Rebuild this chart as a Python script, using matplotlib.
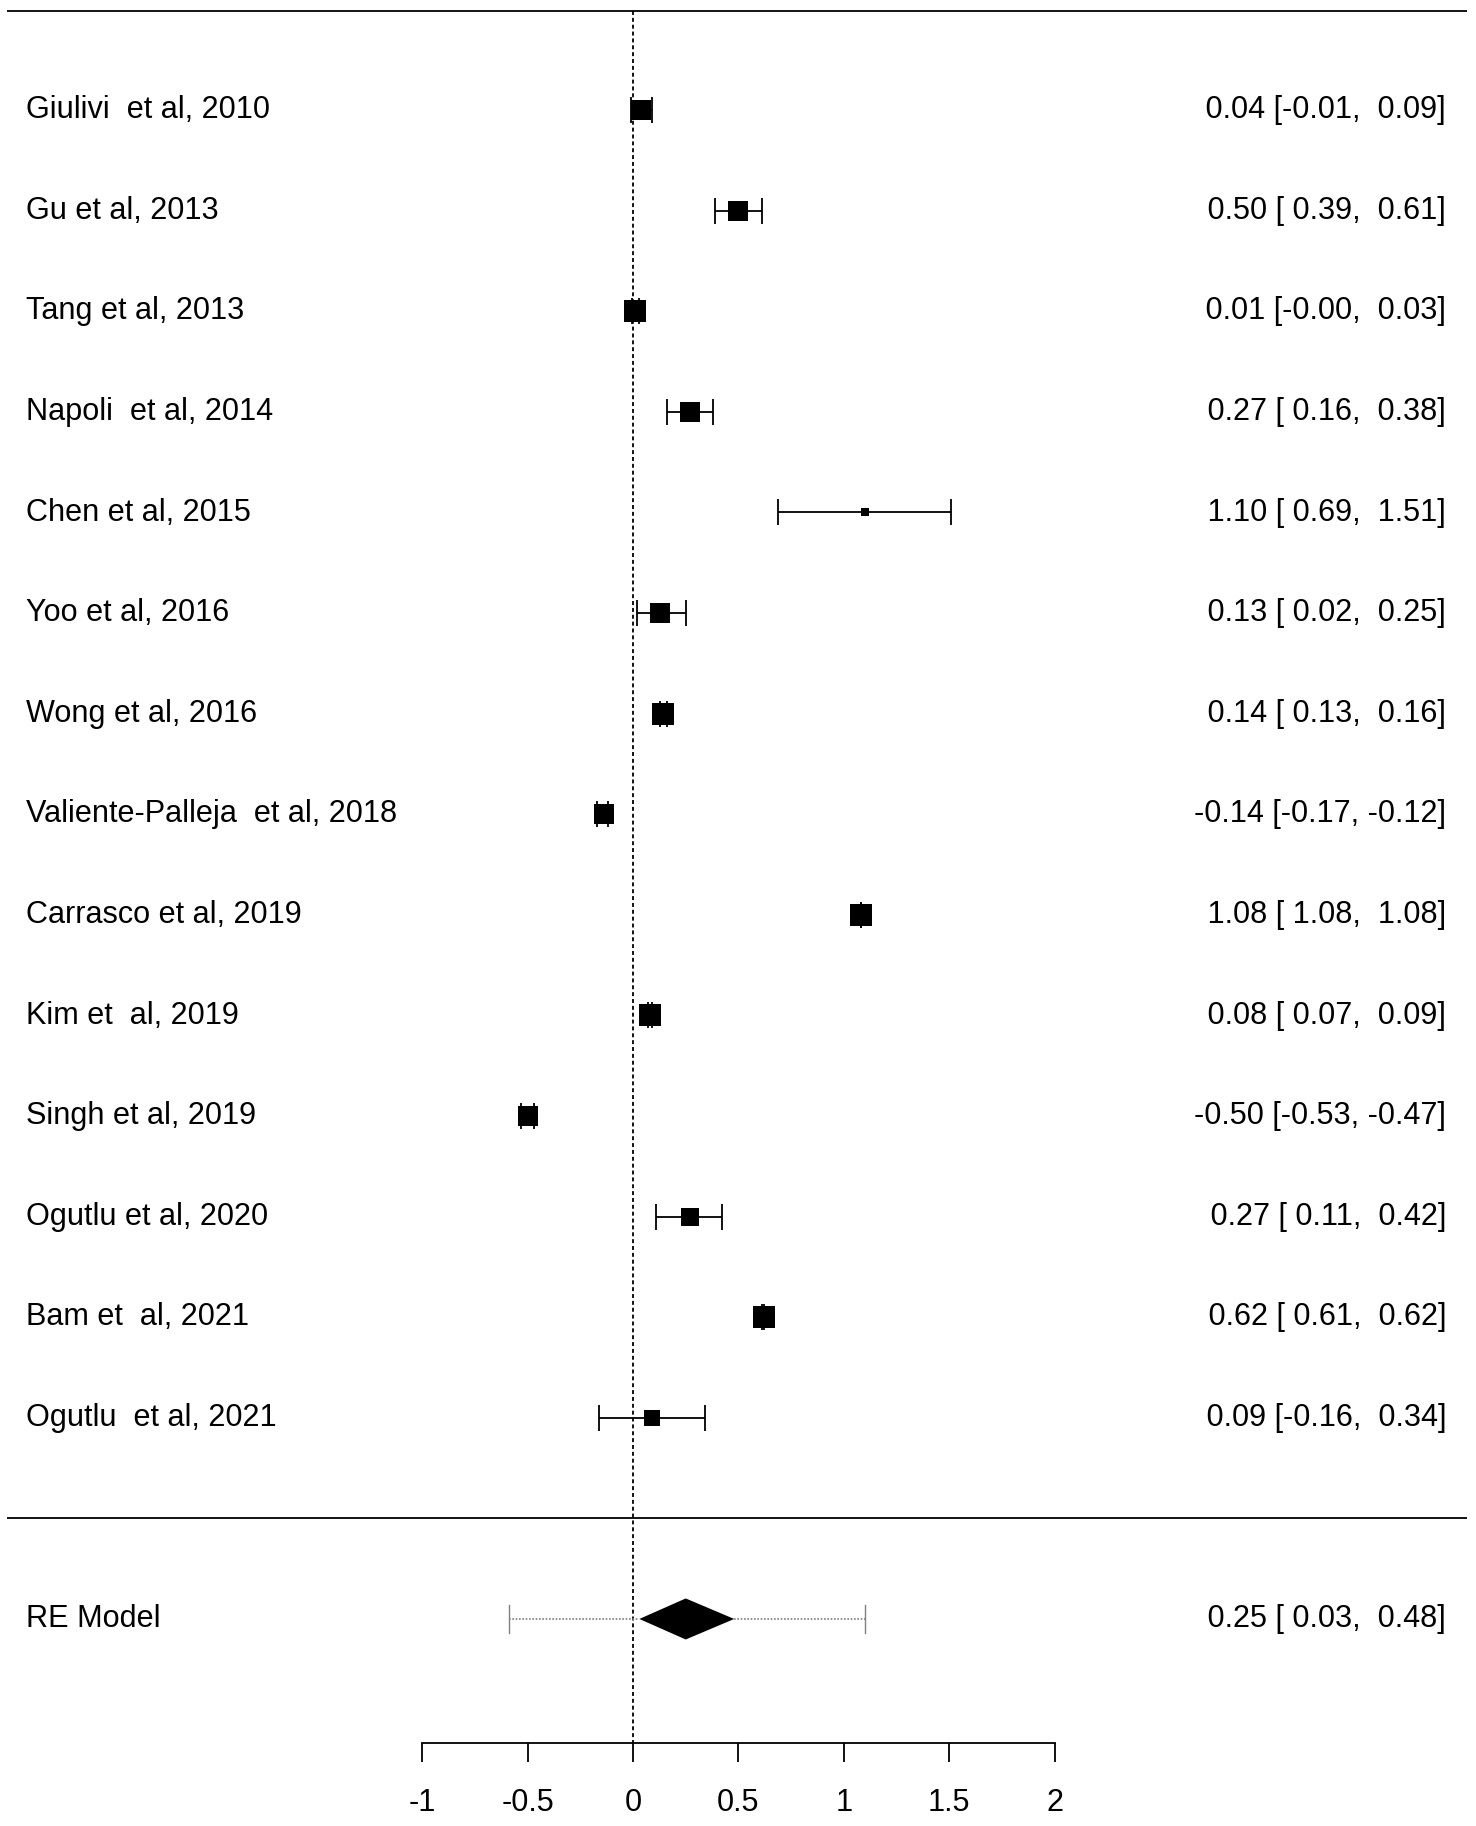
import matplotlib
matplotlib.use("Agg")
import matplotlib.pyplot as plt
import numpy as np

plt.rcParams['font.family'] = ['Liberation Sans', 'DejaVu Sans']

# study data (top to bottom)
studies = ["Giulivi  et al, 2010", "Gu et al, 2013", "Tang et al, 2013",
           "Napoli  et al, 2014", "Chen et al, 2015", "Yoo et al, 2016",
           "Wong et al, 2016", "Valiente-Palleja  et al, 2018",
           "Carrasco et al, 2019", "Kim et  al, 2019", "Singh et al, 2019",
           "Ogutlu et al, 2020", "Bam et  al, 2021", "Ogutlu  et al, 2021"]
est = [0.04, 0.50, 0.01, 0.27, 1.10, 0.13, 0.14, -0.14, 1.08, 0.08, -0.50, 0.27, 0.62, 0.09]
lower = [-0.01, 0.39, -0.004, 0.16, 0.69, 0.02, 0.13, -0.17, 1.08, 0.07, -0.53, 0.11, 0.61, -0.16]
upper = [0.09, 0.61, 0.03, 0.38, 1.51, 0.25, 0.16, -0.12, 1.08, 0.09, -0.47, 0.42, 0.62, 0.34]
weights = [7.31, 7.21, 7.34, 7.21, 5.88, 7.20, 7.34, 7.33, 7.34, 7.34, 7.33, 7.09, 7.34, 6.72]

# random effects summary
re_label = "RE Model"
re_est = 0.25
re_lower = 0.03
re_upper = 0.48
pi_lower = -0.59
pi_upper = 1.10

xticks = [-1, -0.5, 0, 0.5, 1, 1.5, 2]
xtick_labels = ["-1", "-0.5", "0", "0.5", "1", "1.5", "2"]

fs = 22.1
lw = 1.3

fig = plt.figure(figsize=(14.76, 18.26), dpi=100, facecolor='w')
ax = fig.add_axes([0, 0, 1, 1])
ax.set_xlim(-3.003, 3.999)
ax.set_ylim(-3.058, 15.093)

k = len(studies)
rows = np.arange(k, 0, -1)
est_a = np.array(est)
lo_a = np.array(lower)
up_a = np.array(upper)

# box size like metafor: scaled weights between 0.5 and 1.5
w = np.array(weights)
cex = 0.5 + (w - w.min()) / (w.max() - w.min())

# header / separator lines
ax.plot([-2.97, 3.956], [14.98, 14.98], color='black', lw=lw, solid_capstyle='butt')
ax.plot([-2.97, 3.956], [0, 0], color='black', lw=lw, solid_capstyle='butt')

# reference line at 0
ax.plot([0, 0], [14.98, -2.233], color='black', lw=1.3, linestyle=(0, (2.2, 1.6)))

# confidence intervals
ax.errorbar(est_a, rows, xerr=[est_a - lo_a, up_a - est_a], fmt='none',
            ecolor='black', elinewidth=lw, capsize=9.7, capthick=lw, zorder=3)
for x, y, c in zip(est_a, rows, cex):
    ax.plot(x, y, marker='s', color='black', markersize=10.1 * c,
            markeredgewidth=0, zorder=4)

# prediction interval + diamond
ax.plot([pi_lower, re_lower], [-1, -1], color='#808080', lw=1.2, linestyle=(0, (1, 1)))
ax.plot([re_upper, pi_upper], [-1, -1], color='#808080', lw=1.2, linestyle=(0, (1, 1)))
for xp in (pi_lower, pi_upper):
    ax.plot([xp, xp], [-1.135, -0.865], color='#808080', lw=1.0)
h = 0.204
ax.fill([re_lower, re_est, re_upper, re_est], [-1, -1 + h, -1, -1 - h],
        color='black', lw=0, zorder=4)

# text columns
cap = 0.082
for name, y in zip(studies, rows):
    ax.text(-2.88, y - cap, name, ha='left', va='baseline', fontsize=fs)
for e, l, u, y in zip(est, lower, upper, rows):
    ax.text(3.857, y - cap, f"{e:5.2f} [{l:5.2f}, {u:5.2f}]",
            ha='right', va='baseline', fontsize=fs)
ax.text(-2.88, -1 - cap, re_label, ha='left', va='baseline', fontsize=fs)
ax.text(3.857, -1 - cap, f"{re_est:5.2f} [{re_lower:5.2f}, {re_upper:5.2f}]",
        ha='right', va='baseline', fontsize=fs)

# x axis
for s in ['top', 'right', 'left']:
    ax.spines[s].set_visible(False)
ax.spines['bottom'].set_position(('data', -2.233))
ax.spines['bottom'].set_bounds(-1, 2)
ax.spines['bottom'].set_linewidth(lw)
ax.set_xticks(xticks)
ax.set_xticklabels(xtick_labels, fontsize=fs)
ax.tick_params(axis='x', direction='out', length=13.7, width=lw, pad=19)
ax.set_yticks([])
ax.patch.set_visible(False)

fig.savefig("out.png", dpi=100, facecolor='w')
